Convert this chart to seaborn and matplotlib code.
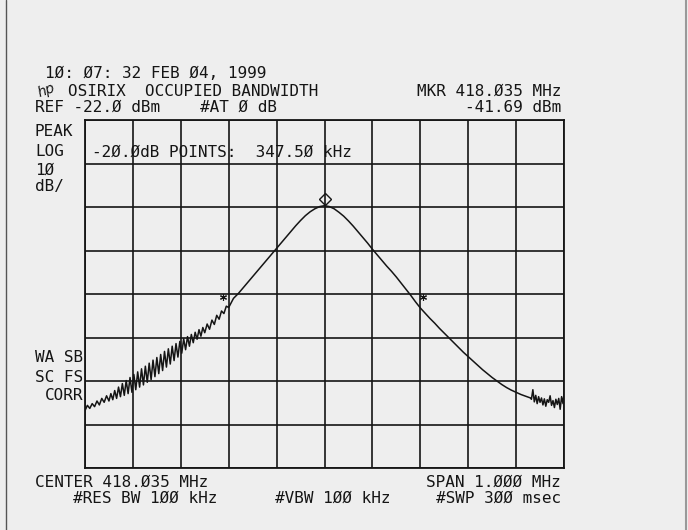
import matplotlib
matplotlib.use("Agg")
import matplotlib.pyplot as plt
import matplotlib.transforms as mtransforms
from matplotlib.lines import Line2D
import seaborn as sns
import pandas as pd

# Trace: offset from centre (kHz) and level (dBm)
noisy_left_khz = [-500, -495, -490, -485, -480, -475, -470, -465, -460, -455,
                  -450, -446, -442, -438, -434, -430, -426, -422, -418, -414,
                  -410, -406, -402, -398, -394, -390, -386, -382, -378, -374,
                  -370, -366, -362, -358, -354, -350, -346, -342, -338, -334,
                  -330, -326, -322, -318, -314, -310, -306, -302, -298, -294,
                  -290, -286, -282, -278, -274, -270, -266, -262, -258, -254,
                  -250, -245, -240, -235, -230, -225, -220, -215, -210, -205, -200]
noisy_left_dbm = [-88.8, -87.6, -88.3, -87.2, -87.9, -86.6, -87.5, -86.0, -86.9, -85.4,
                  -86.6, -84.9, -86.3, -84.2, -86.0, -83.4, -85.6, -82.6, -85.3, -81.9,
                  -84.9, -81.2, -84.6, -80.5, -84.0, -79.9, -83.4, -79.2, -82.9, -78.6,
                  -82.3, -77.9, -81.7, -77.2, -81.0, -76.6, -80.3, -75.9, -79.6, -75.2,
                  -78.8, -74.6, -78.1, -74.0, -77.3, -73.4, -76.5, -72.9, -75.6, -72.3,
                  -74.8, -71.8, -74.0, -71.3, -73.2, -70.8, -72.4, -70.2, -71.7, -69.7,
                  -70.9, -68.9, -70.1, -68.0, -69.0, -66.9, -67.8, -65.9, -66.5, -64.8, -65.1]

smooth_khz = [-190, -180, -170, -160, -150, -140, -130, -120, -110, -100,
              -90, -80, -70, -60, -50, -40, -30, -20, -10, 0,
              10, 20, 30, 40, 50, 60, 70, 80, 90, 100,
              110, 120, 130, 140, 150, 160, 170, 180, 190, 200,
              210, 220, 230, 240, 250, 260, 270, 280, 290, 300,
              310, 320, 330, 340, 350, 360, 370, 380, 390, 400,
              410, 420, 430]
smooth_dbm = [-63.0, -61.9, -60.6, -59.3, -58.0, -56.7, -55.4, -54.1, -52.8, -51.5,
              -50.2, -48.9, -47.6, -46.3, -45.1, -44.0, -43.1, -42.4, -41.9, -41.7,
              -41.9, -42.4, -43.2, -44.1, -45.2, -46.4, -47.7, -49.0, -50.3, -51.7,
              -53.0, -54.3, -55.6, -56.8, -58.1, -59.5, -60.9, -62.3, -63.8, -65.2,
              -66.4, -67.6, -68.7, -69.9, -71.0, -72.1, -73.2, -74.3, -75.4, -76.4,
              -77.4, -78.4, -79.4, -80.3, -81.2, -82.0, -82.8, -83.5, -84.1, -84.6,
              -85.1, -85.5, -85.9]

noisy_right_khz = [432, 435, 438, 441, 444, 447, 450, 453, 456, 459, 462, 465,
                   468, 471, 474, 477, 480, 483, 486, 489, 492, 495, 498, 500]
noisy_right_dbm = [-86.2, -84.0, -86.8, -85.3, -87.2, -85.6, -86.9, -85.9, -87.5, -86.1, -87.8, -86.3,
                   -86.9, -85.4, -87.6, -86.5, -88.1, -86.2, -87.4, -86.0, -88.5, -85.6, -87.2, -85.0]

marker_khz = 0
marker_dbm = -41.69
db20_khz = [-211, 206]
db20_dbm = [-62.6, -62.6]

x_ticks = [-500, -400, -300, -200, -100, 0, 100, 200, 300, 400, 500]
y_ticks = [-102, -92, -82, -72, -62, -52, -42, -32, -22]

trace = pd.DataFrame({
    "offset_khz": noisy_left_khz + smooth_khz + noisy_right_khz,
    "level_dbm": noisy_left_dbm + smooth_dbm + noisy_right_dbm,
})

paper = "#eeeeee"
ink = "#151515"
sns.set_style("white")
plt.rcParams["font.family"] = ["DejaVu Sans Mono"]

fig = plt.figure(figsize=(6.88, 5.30), dpi=100, facecolor=paper)
ax = fig.add_axes([85 / 688, 62 / 530, 479 / 688, 348 / 530])
ax.set_facecolor(paper)

sns.lineplot(data=trace, x="offset_khz", y="level_dbm", ax=ax, color=ink,
             linewidth=1.1, sort=False, estimator=None)

# marker diamond sits a little above the peak
shifted = mtransforms.offset_copy(ax.transData, fig=fig, x=0, y=5, units="points")
ax.plot(marker_khz, marker_dbm, marker="D", ms=6, mfc="none", mec=ink, mew=1.0,
        transform=shifted)
ax.plot(db20_khz, db20_dbm, linestyle="none", marker=(6, 2, 0), ms=5, color=ink, mew=0.8)

ax.set_xlim(-500, 500)
ax.set_ylim(-102, -22)
ax.set_xticks(x_ticks)
ax.set_yticks(y_ticks)
ax.tick_params(left=False, bottom=False, labelleft=False, labelbottom=False)
ax.grid(True, color=ink, linewidth=1.2)
ax.set_xlabel("")
ax.set_ylabel("")
for s in ax.spines.values():
    s.set_visible(True)
    s.set_color(ink)
    s.set_linewidth(1.3)

def px(x, y, s, ha="left", size=11.5, **kw):
    fig.text(x / 688, 1 - y / 530, s, ha=ha, va="center", fontsize=size, color=ink, **kw)

px(45, 74, "1Ø: Ø7: 32 FEB Ø4, 1999")
px(36, 90, "hp", size=10, style="italic", rotation=20, family="DejaVu Sans")
px(68, 91, "OSIRIX  OCCUPIED BANDWIDTH")
px(561, 91, "MKR 418.Ø35 MHz", ha="right")
px(35, 107, "REF -22.Ø dBm")
px(200, 107, "#AT Ø dB")
px(561, 107, "-41.69 dBm", ha="right")
px(35, 131, "PEAK")
px(35, 152, "LOG")
px(35, 170, "1Ø")
px(35, 187, "dB/")
px(92, 152, "-2Ø.ØdB POINTS:  347.5Ø kHz")
px(35, 358, "WA SB")
px(35, 378, "SC FS")
px(45, 396, "CORR")
px(35, 482, "CENTER 418.Ø35 MHz")
px(561, 482, "SPAN 1.ØØØ MHz", ha="right")
px(73, 498, "#RES BW 1ØØ kHz")
px(275, 498, "#VBW 1ØØ kHz")
px(561, 498, "#SWP 3ØØ msec", ha="right")

# scan edges
fig.add_artist(Line2D([6 / 688, 6 / 688], [0, 1], color="#555555", linewidth=1.0))
fig.add_artist(Line2D([686 / 688, 686 / 688], [0, 1], color="#999999", linewidth=1.5))

fig.savefig("out.png", dpi=100, facecolor=paper)
